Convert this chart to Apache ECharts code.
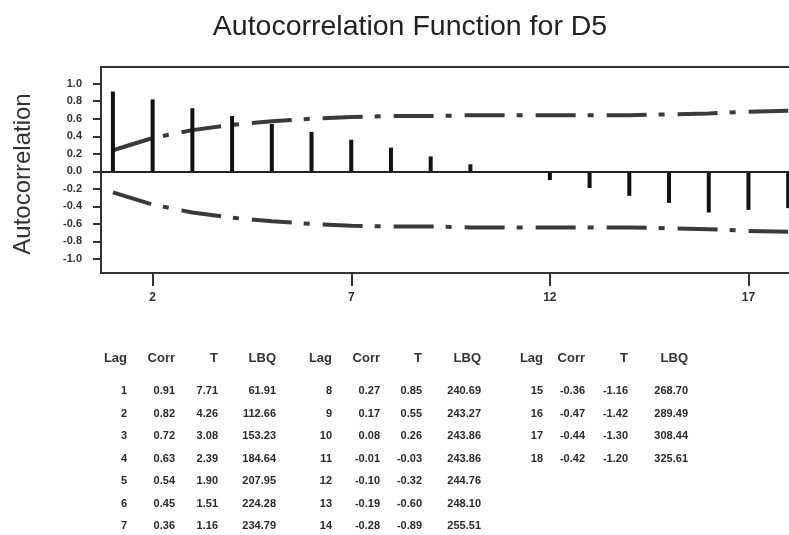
<!DOCTYPE html>
<html>
<head>
<meta charset="utf-8">
<script src="https://cdn.jsdelivr.net/npm/echarts@6/dist/echarts.min.js"></script>
<style>
  html, body { margin: 0; padding: 0; background: #fff; }
  #chart { width: 789px; height: 535px; }
</style>
</head>
<body>
<div id="chart"></div>
<script>
// Autocorrelation function output for series D5
const lags   = [1, 2, 3, 4, 5, 6, 7, 8, 9, 10, 11, 12, 13, 14, 15, 16, 17, 18];
const corr   = [0.91, 0.82, 0.72, 0.63, 0.54, 0.45, 0.36, 0.27, 0.17, 0.08, -0.01, -0.10, -0.19, -0.28, -0.36, -0.47, -0.44, -0.42];
const tStat  = [7.71, 4.26, 3.08, 2.39, 1.90, 1.51, 1.16, 0.85, 0.55, 0.26, -0.03, -0.32, -0.60, -0.89, -1.16, -1.42, -1.30, -1.20];
const lbq    = [61.91, 112.66, 153.23, 184.64, 207.95, 224.28, 234.79, 240.69, 243.27, 243.86, 243.86, 244.76, 248.10, 255.51, 268.70, 289.49, 308.44, 325.61];
// significance limits (upper bound; the lower bound mirrors it)
const limit  = [0.24, 0.38, 0.47, 0.53, 0.57, 0.60, 0.62, 0.63, 0.63, 0.64, 0.64, 0.64, 0.64, 0.64, 0.65, 0.66, 0.68, 0.69];
const xTicks = [2, 7, 12, 17];
const yTicks = [-1.0, -0.8, -0.6, -0.4, -0.2, 0.0, 0.2, 0.4, 0.6, 0.8, 1.0];
const tableHeaders = ['Lag', 'Corr', 'T', 'LBQ'];
const tableBlocks = [[0, 7], [7, 14], [14, 18]];

const FONT = "'Liberation Sans', Arial, sans-serif";

// table placement: right edge of each column, per block
const colRight = [
  [127, 175, 218, 276],
  [332, 380, 422, 481],
  [543, 585, 628, 688]
];
const headerY = 358;
const rowY0 = 391;
const rowStep = 22.5;

const graphics = [
  {
    type: 'text', x: 410, y: 27,
    style: { text: 'Autocorrelation Function for D5', fill: '#222', font: 'normal 28.5px ' + FONT, align: 'center', verticalAlign: 'middle' }
  },
  {
    type: 'text', x: 23, y: 174, rotation: Math.PI / 2,
    style: { text: 'Autocorrelation', fill: '#333', font: 'normal 24px ' + FONT, align: 'center', verticalAlign: 'middle' }
  }
];

tableBlocks.forEach(([from, to], b) => {
  tableHeaders.forEach((h, c) => {
    graphics.push({
      type: 'text', x: colRight[b][c], y: headerY,
      style: { text: h, fill: '#333', font: 'bold 13px ' + FONT, align: 'right', verticalAlign: 'middle' }
    });
  });
  for (let i = from; i < to; i++) {
    const cells = [String(lags[i]), corr[i].toFixed(2), tStat[i].toFixed(2), lbq[i].toFixed(2)];
    cells.forEach((t, c) => {
      graphics.push({
        type: 'text', x: colRight[b][c], y: rowY0 + (i - from) * rowStep,
        style: { text: t, fill: '#2a2a2a', font: 'bold 11px ' + FONT, align: 'right', verticalAlign: 'middle' }
      });
    });
  }
});

const chart = echarts.init(document.getElementById('chart'), null, { renderer: 'canvas' });
chart.setOption({
  animation: false,
  backgroundColor: '#fff',
  grid: {
    left: 101, top: 67, width: 715, height: 206,
    outerBoundsMode: 'none', containLabel: false,
    show: true, borderColor: '#333', borderWidth: 2, backgroundColor: 'transparent'
  },
  xAxis: {
    type: 'value', min: 0.7, max: 18.7,
    axisLine: { show: false, onZero: false },
    splitLine: { show: false },
    axisTick: { show: true, customValues: xTicks, length: 13, lineStyle: { color: '#333', width: 2 } },
    axisLabel: { customValues: xTicks, margin: 19, color: '#333', fontFamily: FONT, fontSize: 12, fontWeight: 'bold' }
  },
  yAxis: {
    type: 'value', min: -1.16, max: 1.19,
    axisLine: { show: false, onZero: false },
    splitLine: { show: false },
    axisTick: { show: true, customValues: yTicks, length: 8, lineStyle: { color: '#333', width: 2 } },
    axisLabel: {
      customValues: yTicks, margin: 19, color: '#333', fontFamily: FONT, fontSize: 11, fontWeight: 'bold',
      formatter: v => v.toFixed(1)
    }
  },
  series: [
    {
      type: 'bar',
      data: lags.map((l, i) => [l, corr[i]]),
      barWidth: 4,
      itemStyle: { color: '#111' },
      markLine: {
        silent: true, symbol: 'none', label: { show: false },
        lineStyle: { color: '#222', width: 2, type: 'solid' },
        data: [{ yAxis: 0 }]
      },
      z: 3
    },
    {
      type: 'line',
      data: lags.map((l, i) => [l, limit[i]]),
      symbol: 'none',
      lineStyle: { color: '#3a3a3a', width: 4, type: [40, 12, 6, 13] },
      z: 2
    },
    {
      type: 'line',
      data: lags.map((l, i) => [l, -limit[i]]),
      symbol: 'none',
      lineStyle: { color: '#3a3a3a', width: 4, type: [40, 12, 6, 13] },
      z: 2
    }
  ],
  graphic: graphics
});
</script>
</body>
</html>
